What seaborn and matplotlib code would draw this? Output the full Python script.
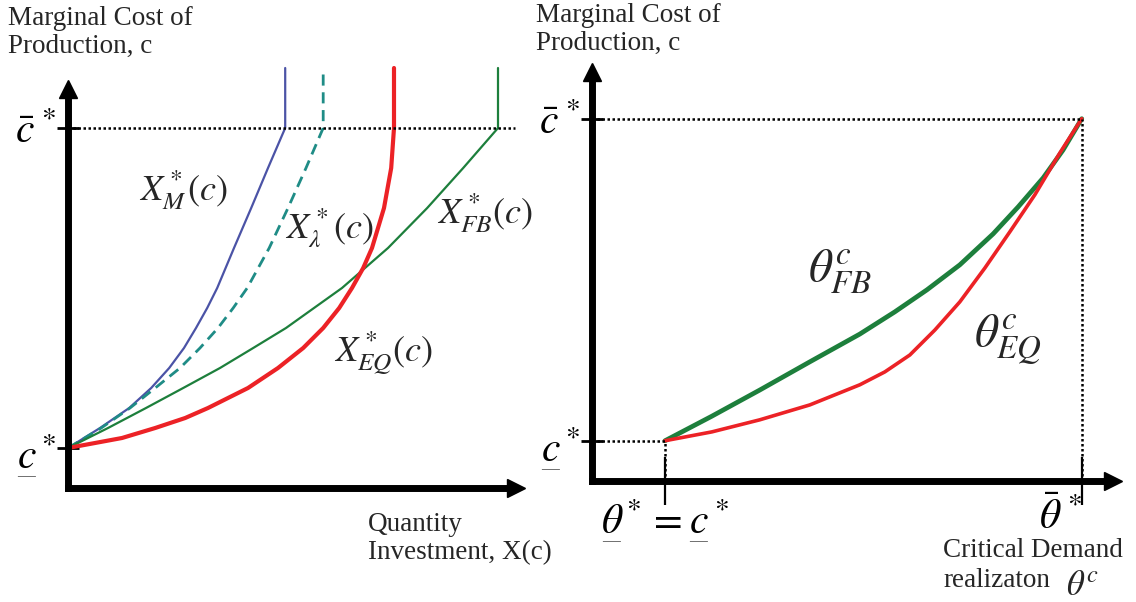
import matplotlib
matplotlib.use("Agg")
import matplotlib.pyplot as plt
import seaborn as sns
from matplotlib.mathtext import MathTextParser

# Left panel: optimal investment X*(c) against marginal cost c (schematic units)
cost_grid = [1, 1.5, 2, 2.5, 3, 3.5, 4, 4.5, 5, 6, 7, 8, 9, 10.5]
x_monopoly = [0, 0.8, 1.53, 2.08, 2.53, 2.9, 3.2, 3.48, 3.73, 4.15, 4.58, 5.0, 5.43, 5.43]
x_lambda = [0, 0.83, 1.55, 2.18, 2.8, 3.3, 3.75, 4.13, 4.48, 5.03, 5.5, 5.95, 6.38, 6.38]
x_first_best = [0, 1.0, 1.95, 2.88, 3.8, 4.63, 5.45, 6.15, 6.85, 8.0, 8.98, 9.88, 10.75, 10.75]
cost_grid_eq = [1, 1.25, 1.5, 1.75, 2, 2.5, 3, 3.5, 4, 4.5, 5, 5.5, 6, 7, 8, 9, 10.5]
x_equilibrium = [0, 1.35, 2.18, 2.93, 3.5, 4.5, 5.25, 5.88, 6.38, 6.78, 7.1, 7.38, 7.6, 7.9, 8.08, 8.15, 8.15]
c_low, c_high = 1, 9

# Right panel: critical demand realization theta^c against c
theta_fb = [1, 1.9, 2.82, 3.78, 4.74, 5.41, 6.03, 6.66, 7.3, 7.78, 8.26, 8.64, 9]
cost_fb = [1, 1.61, 2.26, 2.96, 3.65, 4.2, 4.75, 5.37, 6.14, 6.81, 7.53, 8.22, 9]
theta_eq = [1, 1.9, 2.82, 3.78, 4.74, 5.22, 5.7, 6.18, 6.66, 7.14, 7.62, 8.1, 8.58, 9]
cost_eq = [1, 1.22, 1.52, 1.89, 2.39, 2.71, 3.13, 3.75, 4.45, 5.29, 6.19, 7.11, 8.15, 9]
theta_low, theta_high = 1, 9

BLUE = "#4b53a6"
TEAL = "#1f8c86"
GREEN = "#1d7f3c"
RED = "#ec2226"

sns.set_style("white")
plt.rcParams["font.family"] = ["Liberation Serif", "DejaVu Serif"]
plt.rcParams["mathtext.fontset"] = "stix"


def under(sym):
    # mathtext has no \underline, so put a bar under the symbol with \underset
    for expr in (r"\underset{\mathbf{-}}{%s}" % sym, r"\underset{-}{%s}" % sym):
        try:
            MathTextParser("path").parse("$%s$" % expr)
            return "{%s}" % expr
        except ValueError:
            pass
    return sym


c_under = under("c")
theta_under = under(r"\theta")

fig = plt.figure(figsize=(11.36, 6.02), dpi=100)
W, H = 1136, 602
axL = fig.add_axes([68 / W, (H - 488) / H, (516 - 68) / W, (488 - 89) / H])
axR = fig.add_axes([592 / W, (H - 481) / H, (1113 - 592) / W, (481 - 72) / H])

# ---- left panel
axL.set_xlim(0, 11.2)
axL.set_ylim(0, 9.975)
line_kw = dict(ax=axL, sort=False, estimator=None, clip_on=False)
sns.lineplot(x=x_monopoly, y=cost_grid, color=BLUE, lw=1.6, **line_kw)
sns.lineplot(x=x_lambda, y=cost_grid, color=TEAL, lw=2.0, linestyle=(0, (4, 2.4)), **line_kw)
sns.lineplot(x=x_first_best, y=cost_grid, color=GREEN, lw=1.6, **line_kw)
sns.lineplot(x=x_equilibrium, y=cost_grid_eq, color=RED, lw=3.0, **line_kw)
axL.hlines(c_high, 0, 11.18, colors="k", linestyles=(0, (1, 1)), lw=1.8)

axL.text(2.88, 7.45, r"$X^*_M(c)$", fontsize=26, ha="center", va="center")
axL.text(6.53, 6.5, r"$X^*_\lambda(c)$", fontsize=26, ha="center", va="center")
axL.text(10.43, 6.88, r"$X^*_{FB}(c)$", fontsize=26, ha="center", va="center")
axL.text(7.88, 3.38, r"$X^*_{EQ}(c)$", fontsize=26, ha="center", va="center")

axL.set_xticks([])
axL.set_yticks([c_low, c_high])
axL.set_yticklabels([r"$%s^*$" % c_under, r"$\bar{c}^{\,*}$"], fontsize=30)

# ---- right panel
axR.set_xlim(-0.401, 9.6)
axR.set_ylim(0, 10.16)
line_kw = dict(ax=axR, sort=False, estimator=None)
sns.lineplot(x=theta_fb, y=cost_fb, color=GREEN, lw=3.4, **line_kw)
sns.lineplot(x=theta_eq, y=cost_eq, color=RED, lw=2.6, **line_kw)
dot = dict(colors="k", linestyles=(0, (1, 1)), lw=1.8)
axR.hlines(c_high, -0.401, theta_high, **dot)
axR.hlines(c_low, -0.401, theta_low, **dot)
axR.vlines(theta_low, 0, c_low, **dot)
axR.vlines(theta_high, 0, c_high, **dot)

axR.text(4.36, 5.19, r"$\theta^c_{FB}$", fontsize=34, ha="center", va="center")
axR.text(7.58, 3.5, r"$\theta^c_{EQ}$", fontsize=34, ha="center", va="center")

axR.set_yticks([c_low, c_high])
axR.set_yticklabels([r"$%s^*$" % c_under, r"$\bar{c}^{\,*}$"], fontsize=30)
axR.set_xticks([theta_low, theta_high])
axR.set_xticklabels([r"$%s^* = %s^*$" % (theta_under, c_under), r"$\bar{\theta}^{\,*}$"], fontsize=30)
axR.get_xticklabels()[1].set_ha("right")

# ---- axes as thick arrows
for ax in (axL, axR):
    sns.despine(ax=ax)
    for side in ("left", "bottom"):
        ax.spines[side].set_linewidth(5)
        ax.spines[side].set_color("k")
        ax.spines[side].set_capstyle("projecting")
    ax.plot(0, 1, "^k", ms=13, transform=ax.transAxes, clip_on=False)
    ax.plot(1, 0, ">k", ms=13, transform=ax.transAxes, clip_on=False)
    ax.tick_params(axis="y", left=True, direction="inout", length=16, width=2, pad=0, colors="k")
axR.tick_params(axis="x", bottom=True, direction="inout", length=34, width=1.6, pad=-5, colors="k")

# ---- axis titles
title_kw = dict(fontsize=19.5, va="top", ha="left", linespacing=1.15)
fig.text(8 / W, 1 - 6 / H, "Marginal Cost of\nProduction, c", **title_kw)
fig.text(536 / W, 1 - 3 / H, "Marginal Cost of\nProduction, c", **title_kw)
fig.text(368 / W, 1 - 512 / H, "Quantity\nInvestment, X(c)", **title_kw)
fig.text(943 / W, 1 - 538 / H, "Critical Demand", **title_kw)
fig.text(943 / W, 1 - 568 / H, "realizaton", **title_kw)
fig.text(1066 / W, 1 - 595 / H, r"$\theta^c$", fontsize=25, va="baseline", ha="left")

fig.savefig("out.png", dpi=100)
